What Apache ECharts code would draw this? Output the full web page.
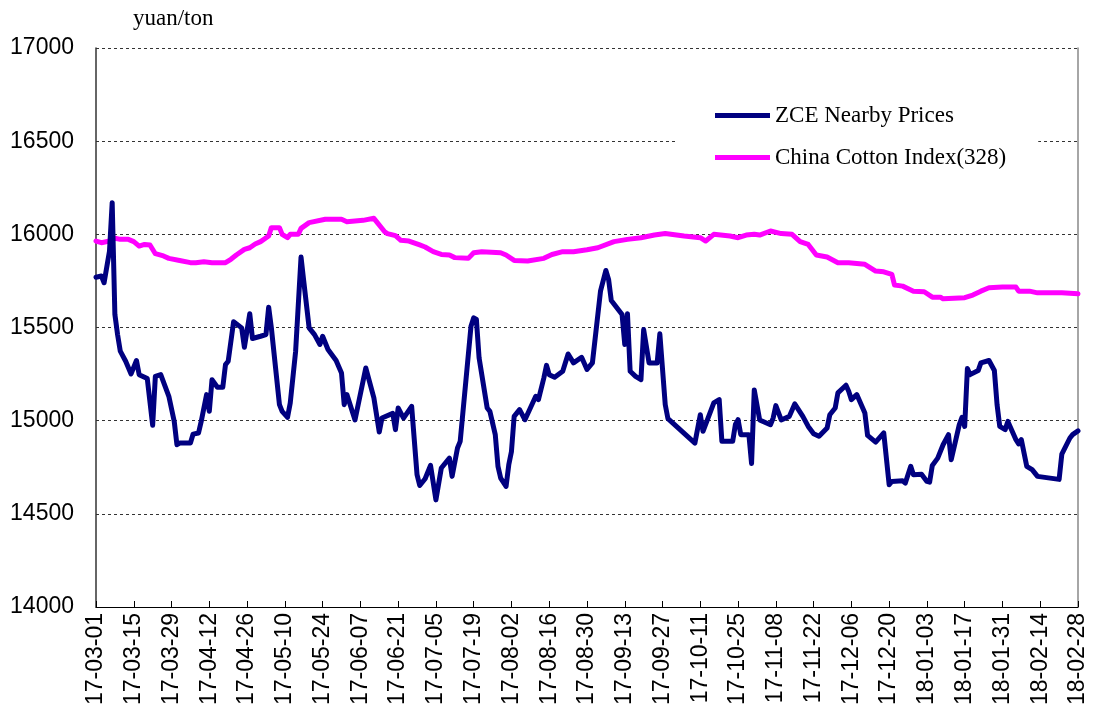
<!DOCTYPE html>
<html>
<head>
<meta charset="utf-8">
<script src="https://cdn.jsdelivr.net/npm/echarts@6/dist/echarts.min.js"></script>
<style>
  html, body { margin: 0; padding: 0; background: #fff; }
  #chart { width: 1094px; height: 713px; }
</style>
</head>
<body>
<div id="chart"></div>
<script>
// y axis ticks
const yTicks = [14000, 14500, 15000, 15500, 16000, 16500, 17000]

// ZCE nearby prices (yuan/ton)
const zceDates = [
  '17-03-01', '17-03-03', '17-03-04', '17-03-06', '17-03-07', '17-03-08', '17-03-09', '17-03-10', '17-03-12', '17-03-14',
  '17-03-16', '17-03-17', '17-03-20', '17-03-22', '17-03-23', '17-03-25', '17-03-28', '17-03-30', '17-03-31',
  '17-04-01', '17-04-05', '17-04-06', '17-04-08', '17-04-09', '17-04-11', '17-04-12', '17-04-13', '17-04-15', '17-04-17',
  '17-04-18', '17-04-19', '17-04-21', '17-04-24', '17-04-25', '17-04-27', '17-04-28',
  '17-05-01', '17-05-03', '17-05-04', '17-05-05', '17-05-08', '17-05-09', '17-05-11', '17-05-12', '17-05-14', '17-05-16',
  '17-05-17', '17-05-19', '17-05-21', '17-05-23', '17-05-24', '17-05-26', '17-05-29', '17-05-31',
  '17-06-01', '17-06-02', '17-06-05', '17-06-09', '17-06-12', '17-06-14', '17-06-15', '17-06-19', '17-06-20', '17-06-21',
  '17-06-23', '17-06-26', '17-06-28', '17-06-29',
  '17-07-01', '17-07-03', '17-07-05', '17-07-07', '17-07-10', '17-07-11', '17-07-13', '17-07-14', '17-07-18', '17-07-19',
  '17-07-20', '17-07-21', '17-07-24', '17-07-25', '17-07-27', '17-07-28', '17-07-29', '17-07-31',
  '17-08-01', '17-08-02', '17-08-03', '17-08-05', '17-08-07', '17-08-09', '17-08-11', '17-08-12', '17-08-14', '17-08-15',
  '17-08-16', '17-08-18', '17-08-21', '17-08-23', '17-08-25', '17-08-28', '17-08-30',
  '17-09-01', '17-09-04', '17-09-06', '17-09-07', '17-09-08', '17-09-12', '17-09-13', '17-09-14', '17-09-15', '17-09-17',
  '17-09-19', '17-09-20', '17-09-22', '17-09-25', '17-09-26', '17-09-28', '17-09-29',
  '17-10-09', '17-10-11', '17-10-12', '17-10-16', '17-10-18', '17-10-19', '17-10-23', '17-10-24', '17-10-25', '17-10-26',
  '17-10-29', '17-10-30', '17-10-31',
  '17-11-02', '17-11-06', '17-11-07', '17-11-08', '17-11-10', '17-11-13', '17-11-15', '17-11-18', '17-11-20', '17-11-22',
  '17-11-24', '17-11-27', '17-11-28', '17-11-30',
  '17-12-01', '17-12-04', '17-12-05', '17-12-06', '17-12-08', '17-12-11', '17-12-12', '17-12-15', '17-12-18', '17-12-20',
  '17-12-21', '17-12-25', '17-12-26', '17-12-28', '17-12-29',
  '18-01-01', '18-01-03', '18-01-04', '18-01-05', '18-01-07', '18-01-09', '18-01-11', '18-01-12', '18-01-15', '18-01-16',
  '18-01-17', '18-01-18', '18-01-19', '18-01-22', '18-01-23', '18-01-26', '18-01-28', '18-01-29', '18-01-30',
  '18-02-01', '18-02-02', '18-02-05', '18-02-06', '18-02-07', '18-02-09', '18-02-11', '18-02-13', '18-02-21', '18-02-22',
  '18-02-25', '18-02-26', '18-02-28'
]
const zceValues = [
  15770, 15776, 15740, 15910, 16170, 15570, 15462, 15373, 15319, 15251,
  15323, 15247, 15226, 14975, 15238, 15247, 15131, 14996, 14871,
  14880, 14880, 14928, 14934, 14996, 15140, 15050, 15220, 15179, 15179,
  15301, 15319, 15531, 15498, 15394, 15574, 15441,
  15453, 15462, 15609, 15498, 15086, 15050, 15018, 15095, 15373, 15878,
  15749, 15498, 15462, 15409, 15453, 15382, 15323, 15256,
  15086, 15140, 15004, 15283, 15122, 14939, 15014, 15039, 14952, 15068,
  15014, 15077, 14710, 14652,
  14688, 14760, 14575, 14746, 14799, 14701, 14853, 14889, 15507, 15552,
  15543, 15337, 15068, 15050, 14925, 14755, 14692, 14647,
  14763, 14835, 15023, 15059, 15005, 15068, 15131, 15113, 15229, 15297,
  15247, 15233, 15265, 15358, 15310, 15340, 15275,
  15310, 15695, 15806, 15758, 15645, 15570, 15409, 15574, 15265, 15238,
  15220, 15489, 15310, 15310, 15466, 15086, 15011,
  14880, 15032, 14943, 15095, 15113, 14889, 14889, 14979, 15005, 14925,
  14925, 14770, 15165,
  15004, 14978, 15014, 15081, 15004, 15023, 15090, 15023, 14969, 14930,
  14916, 14961, 15032, 15068,
  15149, 15190, 15158, 15113, 15140, 15041, 14921, 14885, 14934, 14656,
  14674, 14677, 14665, 14755, 14710,
  14713, 14674, 14670, 14760, 14799, 14871, 14925, 14790, 14979, 15018,
  14969, 15280, 15247, 15269, 15310, 15323, 15269, 15086, 14969,
  14952, 14996, 14898, 14875, 14898, 14755, 14737, 14701, 14685, 14820,
  14907, 14925, 14945
]

// China Cotton Index (328)
const cottonDates = [
  '17-03-01', '17-03-03', '17-03-06', '17-03-08', '17-03-10', '17-03-13', '17-03-15', '17-03-17', '17-03-19', '17-03-21',
  '17-03-23', '17-03-26', '17-03-28', '17-04-01', '17-04-05', '17-04-07', '17-04-10', '17-04-13', '17-04-18', '17-04-20',
  '17-04-22', '17-04-25', '17-04-27', '17-04-29', '17-05-01', '17-05-04', '17-05-05', '17-05-08', '17-05-09', '17-05-11',
  '17-05-12', '17-05-15', '17-05-16', '17-05-19', '17-05-25', '17-05-31', '17-06-02', '17-06-08', '17-06-12', '17-06-16',
  '17-06-17', '17-06-20', '17-06-22', '17-06-25', '17-06-29', '17-07-01', '17-07-04', '17-07-07', '17-07-10', '17-07-12',
  '17-07-17', '17-07-19', '17-07-22', '17-07-29', '17-07-31', '17-08-03', '17-08-08', '17-08-14', '17-08-17', '17-08-21',
  '17-08-25', '17-08-30', '17-09-03', '17-09-09', '17-09-14', '17-09-19', '17-09-24', '17-09-28', '17-10-05', '17-10-11',
  '17-10-13', '17-10-16', '17-10-22', '17-10-25', '17-10-28', '17-10-31', '17-11-02', '17-11-06', '17-11-10', '17-11-14',
  '17-11-17', '17-11-20', '17-11-23', '17-11-27', '17-12-01', '17-12-05', '17-12-11', '17-12-15', '17-12-18', '17-12-21',
  '17-12-22', '17-12-25', '17-12-29', '18-01-02', '18-01-05', '18-01-08', '18-01-09', '18-01-17', '18-01-20', '18-01-23',
  '18-01-26', '18-01-31', '18-02-05', '18-02-06', '18-02-10', '18-02-13', '18-02-22', '18-02-28'
]
const cottonValues = [
  15964, 15955, 15964, 15979, 15973, 15973, 15961, 15937, 15946, 15943,
  15896, 15884, 15871, 15860, 15848, 15848, 15853, 15848, 15848, 15866,
  15889, 15919, 15928, 15948, 15961, 15991, 16036, 16036, 16000, 15982,
  16000, 16000, 16032, 16063, 16081, 16081, 16068, 16075, 16086, 16014,
  16004, 15993, 15968, 15964, 15943, 15932, 15907, 15892, 15889, 15875,
  15871, 15901, 15907, 15901, 15889, 15860, 15857, 15871, 15892, 15907,
  15907, 15917, 15928, 15961, 15973, 15982, 15996, 16004, 15991, 15982,
  15964, 16000, 15991, 15982, 15996, 16000, 15996, 16018, 16004, 16000,
  15961, 15946, 15889, 15878, 15848, 15848, 15839, 15803, 15799, 15785,
  15728, 15722, 15695, 15692, 15663, 15663, 15654, 15660, 15674, 15695,
  15713, 15717, 15717, 15695, 15695, 15686, 15686, 15681
]

// every calendar day from 17-03-01 to 18-02-28
const categories = []
for (let d = new Date(Date.UTC(2017, 2, 1)); d <= new Date(Date.UTC(2018, 1, 28)); d.setUTCDate(d.getUTCDate() + 1)) {
  const yy = String(d.getUTCFullYear()).slice(2)
  const mm = String(d.getUTCMonth() + 1).padStart(2, '0')
  const dd = String(d.getUTCDate()).padStart(2, '0')
  categories.push(yy + '-' + mm + '-' + dd)
}

const toPairs = (dates, values) => dates.map((d, i) => [categories.indexOf(d), values[i]])

const chart = echarts.init(document.getElementById('chart'))
chart.setOption({
  animation: false,
  title: {
    text: 'yuan/ton',
    left: 128,
    top: 2,
    textStyle: {
      fontFamily: 'Liberation Serif',
      fontWeight: 'normal',
      fontSize: 23,
      color: '#000',
    },
  },
  legend: {
    data: ['ZCE Nearby Prices', 'China Cotton Index(328)'],
    orient: 'vertical',
    left: 675,
    top: 94,
    padding: [10, 32, 10, 40],
    backgroundColor: '#fff',
    icon: 'rect',
    itemWidth: 55,
    itemHeight: 5,
    itemGap: 19,
    textStyle: {
      fontFamily: 'Liberation Serif',
      fontSize: 23,
      color: '#000',
    },
  },
  grid: {
    left: 96,
    right: 16,
    top: 48,
    bottom: 106,
  },
  xAxis: {
    type: 'category',
    data: categories,
    boundaryGap: false,
    axisLine: { lineStyle: { color: '#000', width: 1 } },
    axisTick: {
      inside: true,
      length: 6,
      interval: 13,
      lineStyle: { color: '#000' },
    },
    axisLabel: {
      interval: 13,
      rotate: 90,
      margin: 6,
      fontFamily: 'Liberation Sans',
      fontSize: 23,
      color: '#000',
    },
    splitLine: { show: false },
  },
  yAxis: [
    {
      type: 'value',
      min: yTicks[0],
      max: yTicks[yTicks.length - 1],
      interval: 500,
      axisLine: { show: true, lineStyle: { color: '#333', width: 1.5 } },
      axisTick: { show: false },
      axisLabel: {
        margin: 22,
        fontFamily: 'Liberation Sans',
        fontSize: 23,
        color: '#000',
        formatter: (v) => String(v),
      },
      splitLine: {
        lineStyle: { color: '#333', width: 1, type: [3, 3] },
      },
    },
    {
      type: 'value',
      position: 'right',
      min: yTicks[0],
      max: yTicks[yTicks.length - 1],
      interval: 500,
      axisLine: { show: true, lineStyle: { color: '#888', width: 1.5 } },
      axisTick: { show: false },
      axisLabel: { show: false },
      splitLine: { show: false },
    },
  ],
  series: [
    {
      name: 'ZCE Nearby Prices',
      type: 'line',
      z: 3,
      showSymbol: false,
      color: '#000080',
      lineStyle: { width: 5, color: '#000080', join: 'round', cap: 'round' },
      data: toPairs(zceDates, zceValues),
    },
    {
      name: 'China Cotton Index(328)',
      type: 'line',
      z: 2,
      showSymbol: false,
      color: '#ff00ff',
      lineStyle: { width: 5, color: '#ff00ff', join: 'round', cap: 'round' },
      data: toPairs(cottonDates, cottonValues),
    },
  ],
})
</script>
</body>
</html>
